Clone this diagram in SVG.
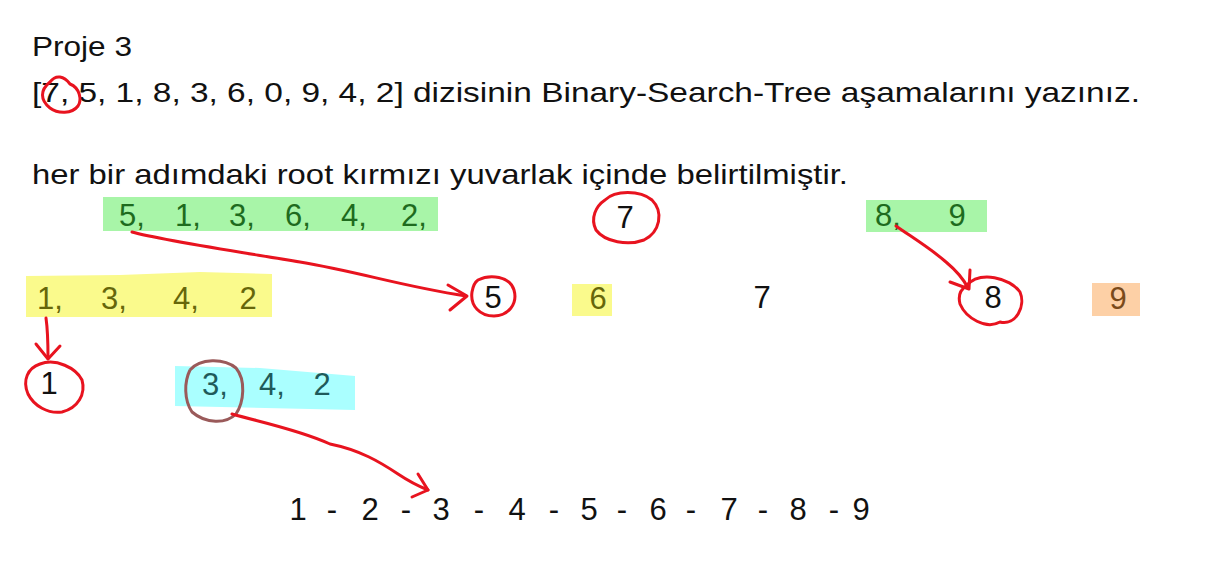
<svg xmlns="http://www.w3.org/2000/svg" width="1219" height="576" viewBox="0 0 1219 576">
<style>
text{font-family:"Liberation Sans","DejaVu Sans",sans-serif;font-size:28px;fill:#111}
.n{font-size:31px;text-anchor:middle}
.g{fill:#1e6b1e}.y{fill:#66660a}.c{fill:#1f5a5a}.o{fill:#7a4a1a}
.red{fill:none;stroke:#e8131f;stroke-width:3;stroke-linecap:round;stroke-linejoin:round}
</style>
<rect width="1219" height="576" fill="#fff"/>
<g id="header">
<text x="32" y="56" textLength="100" lengthAdjust="spacingAndGlyphs">Proje 3</text>
<text x="32" y="102" textLength="1108" lengthAdjust="spacingAndGlyphs">[7, 5, 1, 8, 3, 6, 0, 9, 4, 2] dizisinin Binary-Search-Tree aşamalarını yazınız.</text>
<path class="red" d="M50,82 C56,74 64,76 70,84 C80,88 82,100 78,106 C72,114 58,114 50,108 C40,100 40,90 50,82"/>
<text x="32" y="184" textLength="816" lengthAdjust="spacingAndGlyphs">her bir adımdaki root kırmızı yuvarlak içinde belirtilmiştir.</text>
</g>
<g id="node-green-left">
<rect x="103" y="197" width="335" height="34" fill="#a8f5a8"/>
<text class="n g" y="226"><tspan x="132">5,</tspan><tspan x="188">1,</tspan><tspan x="242">3,</tspan><tspan x="298">6,</tspan><tspan x="354">4,</tspan><tspan x="414">2,</tspan></text>
</g>
<g id="node-root-7">
<path class="red" d="M605,200 C615,190 640,190 652,200 C664,212 660,232 644,240 C628,246 605,242 596,230 C590,218 596,206 605,200"/>
<text class="n" x="625" y="228">7</text>
</g>
<g id="node-green-right">
<rect x="866" y="200" width="121" height="32" fill="#a8f5a8"/>
<text class="n g" y="226"><tspan x="888">8,</tspan><tspan x="957">9</tspan></text>
</g>
<g id="node-yellow-left">
<path d="M26,276 L120,275 L200,272 L272,274 L272,317 L26,317 Z" fill="#fafa8c"/>
<text class="n y" y="309"><tspan x="50">1,</tspan><tspan x="114">3,</tspan><tspan x="186">4,</tspan><tspan x="248">2</tspan></text>
</g>
<g id="node-5">
<path class="red" d="M478,280 C490,274 510,276 514,290 C518,304 508,316 494,316 C480,316 470,306 472,292 C473,286 475,282 478,280"/>
<text class="n" x="493" y="308">5</text>
</g>
<g id="node-6">
<rect x="572" y="284" width="40" height="32" fill="#fafa8c"/>
<text class="n y" x="598" y="309">6</text>
</g>
<g id="node-7">
<text class="n" x="762" y="308">7</text>
</g>
<g id="node-8">
<path class="red" d="M966,286 C980,270 1010,278 1020,292 C1026,306 1016,326 1000,322 C986,330 966,318 960,304 C958,296 960,290 966,286"/>
<text class="n" x="993" y="308">8</text>
</g>
<g id="node-9">
<rect x="1092" y="283" width="48" height="33" fill="#fdd0a6"/>
<text class="n o" x="1118" y="309">9</text>
</g>
<g id="node-1">
<path class="red" d="M40,364 C56,358 76,368 82,380 C86,394 78,408 62,412 C48,414 34,406 28,394 C22,380 28,368 40,364"/>
<text class="n" x="49" y="394">1</text>
</g>
<g id="node-cyan">
<path d="M175,366 L260,368 L355,376 L355,410 L175,406 Z" fill="#aaffff"/>
<text class="n c" y="395"><tspan x="215">3,</tspan><tspan x="272">4,</tspan><tspan x="322">2</tspan></text>
<path d="M190,370 C200,358 224,358 236,368 C246,380 244,402 236,414 C226,424 206,424 192,412 C184,400 184,382 190,370" fill="none" stroke="#9a5a5a" stroke-width="3"/>
</g>
<g id="node-result">
<text class="n" y="520"><tspan x="298">1</tspan><tspan x="332">-</tspan><tspan x="370">2</tspan><tspan x="406">-</tspan><tspan x="441">3</tspan><tspan x="479">-</tspan><tspan x="517">4</tspan><tspan x="554">-</tspan><tspan x="589">5</tspan><tspan x="622">-</tspan><tspan x="658">6</tspan><tspan x="691">-</tspan><tspan x="729">7</tspan><tspan x="763">-</tspan><tspan x="798">8</tspan><tspan x="834">-</tspan><tspan x="861">9</tspan></text>
</g>
<g id="connectors">
<path class="red" d="M132,232 C160,240 240,252 300,262 C360,272 400,286 466,296"/>
<path class="red" d="M448,285 L467,296 L450,310"/>
<path class="red" d="M896,226 C910,236 930,248 946,262 C958,272 964,280 968,288"/>
<path class="red" d="M950,282 L969,289 L970,270"/>
<path class="red" d="M46,318 C48,332 48,346 48,358"/>
<path class="red" d="M36,344 L48,359 L60,346"/>
<path class="red" d="M232,414 C260,422 300,430 330,444 C360,450 380,462 398,474 C410,482 418,486 428,490"/>
<path class="red" d="M418,474 L428,490 L412,497"/>
</g>
</svg>
